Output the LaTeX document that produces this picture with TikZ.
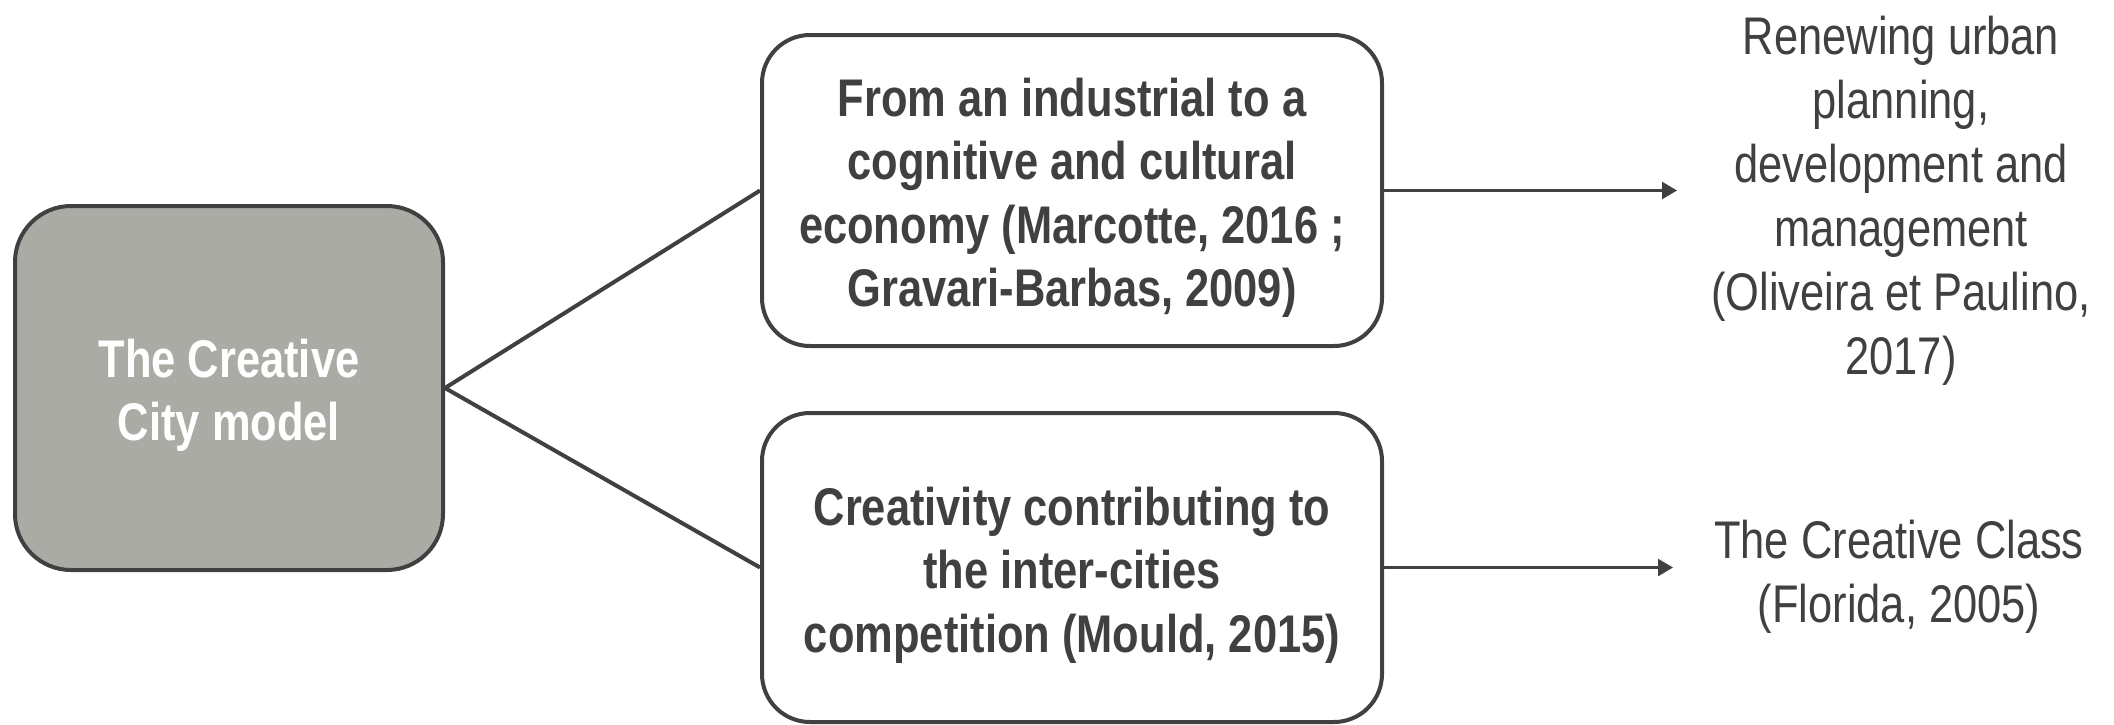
\documentclass[tikz,border=0pt]{standalone}
\usepackage{fontspec}
\newfontfamily\narrowfont[FakeStretch=0.82]{Liberation Sans}
\usetikzlibrary{arrows.meta}
\definecolor{dk}{RGB}{64,64,64}
\definecolor{boxgray}{RGB}{171,171,166}
\newcommand{\firststrut}{\rule{0pt}{26.5pt}}
\tikzset{
  basebox/.style={draw=dk, line width=2pt, inner sep=0pt, align=center,
    font=\narrowfont\bfseries\fontsize{26.5}{31.75}\selectfont},
  leftbox/.style={basebox, fill=boxgray, text=white, rounded corners=28pt,
    minimum width=214pt, minimum height=182pt},
  midbox/.style={basebox, fill=white, text=dk, rounded corners=24pt,
    minimum width=310pt},
  outtext/.style={inner sep=0pt, align=center, text=dk,
    font=\narrowfont\fontsize{26.5}{32}\selectfont},
  link/.style={draw=dk, line width=2pt},
  arrowlink/.style={draw=dk, line width=1.25pt, -{Triangle[length=7.5pt,width=8.5pt]}}
}
\begin{document}
\begin{tikzpicture}[x=0.5pt,y=-0.5pt]
\useasboundingbox (0,0) rectangle (2114,724);
\node[leftbox] (city) at (229,388) {\firststrut The Creative\\City model};
\node[midbox, minimum height=155.5pt] (econ) at (1072,190.5)
  {\firststrut From an industrial to a\\cognitive and cultural\\economy (Marcotte, 2016 ;\\Gravari-Barbas, 2009)};
\node[midbox, minimum height=154.5pt] (comp) at (1072,567.5)
  {\firststrut Creativity contributing to\\the inter-cities\\competition (Mould, 2015)};
\node[outtext] (renew) at (1901,201)
  {Renewing urban\\planning,\\development and\\management\\(Oliveira et Paulino,\\2017)};
\node[outtext] (class) at (1899,577) {The Creative Class\\(Florida, 2005)};
\coordinate (tipA) at (1677,190.5);
\coordinate (tipB) at (1673,567.5);
\draw[link] (city.east) -- (econ.west);
\draw[link] (city.east) -- (comp.west);
\draw[arrowlink] (econ.east) -- (tipA);
\draw[arrowlink] (comp.east) -- (tipB);
\end{tikzpicture}
\end{document}
